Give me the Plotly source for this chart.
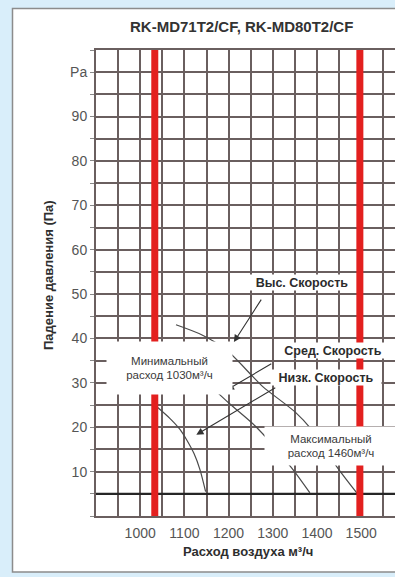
import plotly.graph_objects as go

# ---------------- data ----------------
title_text = "RK-MD71T2/CF, RK-MD80T2/CF"
x_title = "Расход воздуха м³/ч"
y_title = "Падение давления (Па)"

x_tick_vals = [900, 950, 1000, 1050, 1100, 1150, 1200, 1250, 1300, 1350, 1400, 1450, 1500, 1550]
x_tick_labels = ["", "", "1000", "", "1100", "", "1200", "", "1300", "", "1400", "", "1500", ""]
y_tick_vals = [0, 5, 10, 15, 20, 25, 30, 35, 40, 45, 50, 55, 60, 65, 70, 75, 80, 85, 90, 95, 100, 105]
y_tick_labels = ["", "", "10", "", "20", "", "30", "", "40", "", "50", "", "60", "", "70", "", "80", "", "90", "", "Pa", ""]

x_range = [900, 1576.5]
y_range = [0, 105]

min_flow = 1033          # red line "Минимальный расход"
max_flow = 1497          # red line "Максимальный расход"
pressure_floor = 5       # heavy horizontal line

high_x = [1081, 1140, 1194, 1255, 1278, 1352, 1384, 1447, 1490]
high_y = [43.1, 40.8, 37.5, 31.4, 29.1, 23.3, 19.9, 10.8, 5.2]
mid_x = [1156, 1201, 1262, 1343, 1384]
mid_y = [29.6, 25.4, 20.1, 10.8, 5.2]
low_x = [1033, 1067, 1090, 1106, 1122, 1135, 1148]
low_y = [25.0, 22.0, 19.5, 17.0, 14.0, 10.5, 5.5]

speed_labels = ["Выс. Скорость", "Сред. Скорость", "Низк. Скорость"]
speed_label_x = [1366, 1436, 1420]
speed_label_y = [52.7, 37.4, 31.3]
leader_from = [(1276, 49.1), (1300, 34.5), (1309, 29.1)]
leader_to = [(1212, 39.2), (1196, 28.4), (1127, 18.3)]

min_label = "Минимальный<br>расход 1030м³/ч"
min_label_pos = (1067, 33.4)
max_label = "Максимальный<br>расход 1460м³/ч"
max_label_pos = (1431, 15.8)

# ---------------- figure ----------------
W, H = 395, 577
ML, MR, MT, MB = 96, 0, 50, 61
pw, ph = W - ML - MR, H - MT - MB

def px_x(p):
    return (p - ML) / pw

def px_y(p):
    return (H - MB - p) / ph

grid_col = "#6a5f5f"
curve_col = "#4a4a4a"
red = "#e3201f"
sans = "Liberation Sans, Arial, sans-serif"

fig = go.Figure()

# heavy line at 5 Pa
fig.add_trace(go.Scatter(x=x_range, y=[pressure_floor, pressure_floor], mode="lines",
                         line=dict(color="#262626", width=2.2), hoverinfo="skip"))
# curves
for xs, ys in [(high_x, high_y), (mid_x, mid_y), (low_x, low_y)]:
    fig.add_trace(go.Scatter(x=xs, y=ys, mode="lines",
                             line=dict(color=curve_col, width=1.2, shape="spline", smoothing=0.8),
                             hoverinfo="skip"))
# red limit lines
for f in (min_flow, max_flow):
    fig.add_trace(go.Scatter(x=[f, f], y=y_range, mode="lines",
                             line=dict(color=red, width=7), hoverinfo="skip"))

annotations = []
# leader arrows
for (sx, sy), (tx, ty) in zip(leader_from, leader_to):
    annotations.append(dict(x=tx, y=ty, ax=sx, ay=sy, xref="x", yref="y", axref="x", ayref="y",
                            text="", showarrow=True, arrowhead=2, arrowsize=1.3, arrowwidth=1.1,
                            arrowcolor="#333333", standoff=0))
# speed labels
box_w = [104, 112, 110]
for t, x, y, bw in zip(speed_labels, speed_label_x, speed_label_y, box_w):
    annotations.append(dict(x=x, y=y, xref="x", yref="y", text=t, showarrow=False,
                            xanchor="center", yanchor="middle",
                            font=dict(family=sans, size=12.5, color="#2b2b2b", weight="bold"),
                            bgcolor="white", width=bw, height=15, borderpad=0))
# min / max labels
annotations.append(dict(x=min_label_pos[0], y=min_label_pos[1], xref="x", yref="y", text=min_label,
                        showarrow=False, xanchor="center", yanchor="middle",
                        font=dict(family=sans, size=11.5, color="#3a3a3a"),
                        bgcolor="white", width=125, height=52, borderpad=0))
annotations.append(dict(x=max_label_pos[0], y=max_label_pos[1], xref="x", yref="y", text=max_label,
                        showarrow=False, xanchor="center", yanchor="middle",
                        font=dict(family=sans, size=11.5, color="#3a3a3a"),
                        bgcolor="white", width=132, height=38, borderpad=0))
# titles
annotations.append(dict(x=px_x(241), y=px_y(26), xref="paper", yref="paper", text=title_text,
                        xanchor="center", yanchor="middle", showarrow=False,
                        font=dict(family=sans, size=15, color="#333333", weight="bold")))
annotations.append(dict(x=px_x(248), y=px_y(551), xref="paper", yref="paper", text=x_title,
                        xanchor="center", yanchor="middle", showarrow=False,
                        font=dict(family=sans, size=13, color="#2e2e2e", weight="bold")))
annotations.append(dict(x=px_x(48), y=px_y(275), xref="paper", yref="paper", text=y_title, textangle=-90,
                        xanchor="center", yanchor="middle", showarrow=False,
                        font=dict(family=sans, size=13, color="#2e2e2e", weight="bold")))

fig.update_layout(
    width=W, height=H, margin=dict(l=ML, r=MR, t=MT, b=MB),
    paper_bgcolor="#d9eefa", plot_bgcolor="white", showlegend=False,
    annotations=annotations,
    shapes=[dict(type="rect", xref="paper", yref="paper", layer="below",
                 x0=px_x(12.5), x1=px_x(420), y0=px_y(572), y1=px_y(8.5),
                 fillcolor="white", line=dict(color="#8c8c8c", width=1.5))],
)
fig.update_xaxes(range=x_range, tickvals=x_tick_vals, ticktext=x_tick_labels,
                 showgrid=True, gridcolor=grid_col, gridwidth=1.6,
                 showline=True, linecolor=grid_col, linewidth=2, mirror=True,
                 ticks="outside", ticklen=3, tickcolor="rgba(0,0,0,0)",
                 tickfont=dict(family=sans, size=14, color="#555555"), zeroline=False, fixedrange=True)
fig.update_yaxes(range=y_range, tickvals=y_tick_vals, ticktext=y_tick_labels,
                 showgrid=True, gridcolor=grid_col, gridwidth=1.6,
                 showline=True, linecolor=grid_col, linewidth=2,
                 ticks="outside", ticklen=4, tickcolor="#888888", tickwidth=1,
                 tickfont=dict(family=sans, size=14, color="#555555"), zeroline=False, fixedrange=True)

fig.write_html("out.html", config={"displayModeBar": False},
               post_script="document.body.style.margin='0';document.body.style.overflow='hidden';")
